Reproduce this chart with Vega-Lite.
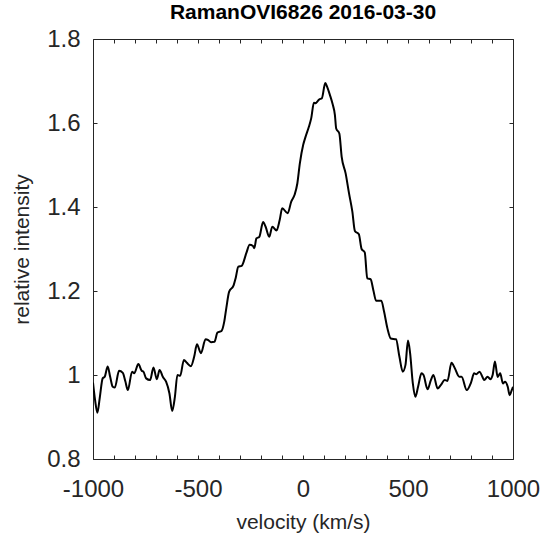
{
  "$schema": "https://vega.github.io/schema/vega-lite/v6.json",
  "width": 420,
  "height": 420,
  "autosize": {"type": "none"},
  "padding": {"left": 93, "top": 39, "right": 36, "bottom": 81},
  "background": "white",
  "config": {
    "view": {"stroke": "#262626", "strokeWidth": 1},
    "font": "Liberation Sans"
  },
  "title": {
    "text": "RamanOVI6826 2016-03-30",
    "fontSize": 21,
    "fontWeight": "bold",
    "color": "#000000",
    "font": "Liberation Sans",
    "anchor": "middle",
    "frame": "group",
    "offset": 4
  },
  "data": {
    "values": [
      {"v": -1000, "i": 0.982}, {"v": -990, "i": 0.94}, {"v": -979, "i": 0.910}, {"v": -968, "i": 0.945},
      {"v": -954, "i": 0.992}, {"v": -944, "i": 0.996}, {"v": -930, "i": 1.020}, {"v": -918, "i": 0.995},
      {"v": -906, "i": 0.972}, {"v": -896, "i": 0.970}, {"v": -876, "i": 1.010}, {"v": -858, "i": 1.005},
      {"v": -846, "i": 0.985}, {"v": -834, "i": 0.964}, {"v": -814, "i": 1.008}, {"v": -804, "i": 1.004},
      {"v": -784, "i": 1.026}, {"v": -768, "i": 1.010}, {"v": -760, "i": 1.008}, {"v": -747, "i": 0.992},
      {"v": -728, "i": 0.988}, {"v": -712, "i": 1.018}, {"v": -696, "i": 0.990}, {"v": -683, "i": 1.012},
      {"v": -667, "i": 0.995}, {"v": -652, "i": 0.984}, {"v": -636, "i": 0.956}, {"v": -623, "i": 0.914},
      {"v": -610, "i": 0.948}, {"v": -598, "i": 1.000}, {"v": -585, "i": 0.998}, {"v": -567, "i": 1.036},
      {"v": -553, "i": 1.029}, {"v": -534, "i": 1.021}, {"v": -518, "i": 1.044}, {"v": -505, "i": 1.073},
      {"v": -486, "i": 1.052}, {"v": -464, "i": 1.085}, {"v": -451, "i": 1.083}, {"v": -438, "i": 1.078},
      {"v": -422, "i": 1.079}, {"v": -407, "i": 1.101}, {"v": -388, "i": 1.105}, {"v": -375, "i": 1.127},
      {"v": -365, "i": 1.16}, {"v": -352, "i": 1.198}, {"v": -330, "i": 1.214}, {"v": -321, "i": 1.230},
      {"v": -308, "i": 1.258}, {"v": -292, "i": 1.260}, {"v": -270, "i": 1.290}, {"v": -254, "i": 1.310},
      {"v": -238, "i": 1.307}, {"v": -232, "i": 1.302}, {"v": -222, "i": 1.325}, {"v": -208, "i": 1.329},
      {"v": -190, "i": 1.364}, {"v": -178, "i": 1.353}, {"v": -161, "i": 1.329}, {"v": -146, "i": 1.353},
      {"v": -126, "i": 1.344}, {"v": -111, "i": 1.369}, {"v": -99, "i": 1.397}, {"v": -73, "i": 1.385},
      {"v": -56, "i": 1.413}, {"v": -40, "i": 1.429}, {"v": -27, "i": 1.456}, {"v": -15, "i": 1.504},
      {"v": 1, "i": 1.548}, {"v": 12, "i": 1.567}, {"v": 28, "i": 1.591}, {"v": 39, "i": 1.611},
      {"v": 52, "i": 1.648}, {"v": 61, "i": 1.647}, {"v": 68, "i": 1.651}, {"v": 77, "i": 1.656},
      {"v": 90, "i": 1.659}, {"v": 106, "i": 1.695}, {"v": 115, "i": 1.686}, {"v": 128, "i": 1.667},
      {"v": 141, "i": 1.645}, {"v": 152, "i": 1.619}, {"v": 158, "i": 1.587}, {"v": 173, "i": 1.575},
      {"v": 184, "i": 1.520}, {"v": 203, "i": 1.480}, {"v": 219, "i": 1.433}, {"v": 235, "i": 1.389},
      {"v": 247, "i": 1.343}, {"v": 266, "i": 1.335}, {"v": 279, "i": 1.300}, {"v": 294, "i": 1.292},
      {"v": 306, "i": 1.230}, {"v": 322, "i": 1.228}, {"v": 335, "i": 1.202}, {"v": 348, "i": 1.177},
      {"v": 373, "i": 1.177}, {"v": 386, "i": 1.151}, {"v": 402, "i": 1.111}, {"v": 418, "i": 1.087},
      {"v": 443, "i": 1.085}, {"v": 459, "i": 1.044}, {"v": 475, "i": 1.008}, {"v": 488, "i": 1.024},
      {"v": 500, "i": 1.082}, {"v": 510, "i": 1.052}, {"v": 523, "i": 0.980}, {"v": 535, "i": 0.948},
      {"v": 548, "i": 0.972}, {"v": 564, "i": 1.004}, {"v": 574, "i": 1.000}, {"v": 593, "i": 0.966},
      {"v": 609, "i": 0.988}, {"v": 621, "i": 1.000}, {"v": 641, "i": 0.968}, {"v": 656, "i": 0.976},
      {"v": 675, "i": 0.988}, {"v": 688, "i": 0.986}, {"v": 707, "i": 1.029}, {"v": 723, "i": 1.016},
      {"v": 744, "i": 0.996}, {"v": 755, "i": 0.996}, {"v": 780, "i": 0.964}, {"v": 800, "i": 0.982},
      {"v": 815, "i": 1.004}, {"v": 825, "i": 1.002}, {"v": 841, "i": 1.008}, {"v": 854, "i": 0.996},
      {"v": 863, "i": 0.988}, {"v": 879, "i": 0.996}, {"v": 892, "i": 0.990}, {"v": 903, "i": 1.000},
      {"v": 914, "i": 1.032}, {"v": 927, "i": 0.995}, {"v": 939, "i": 1.004}, {"v": 952, "i": 0.980},
      {"v": 962, "i": 0.984}, {"v": 975, "i": 0.972}, {"v": 984, "i": 0.952}, {"v": 994, "i": 0.964},
      {"v": 1000, "i": 0.972}
    ]
  },
  "layer": [
    {
      "mark": {"type": "line", "color": "#000000", "strokeWidth": 2, "clip": true, "interpolate": "monotone"},
      "encoding": {
        "x": {
          "field": "v", "type": "quantitative",
          "scale": {"domain": [-1000, 1000], "nice": false, "zero": false},
          "axis": {
            "orient": "bottom", "offset": -4,
            "values": [-1000, -900, -800, -700, -600, -500, -400, -300, -200, -100, 0, 100, 200, 300, 400, 500, 600, 700, 800, 900, 1000],
            "labelExpr": "datum.value % 500 === 0 ? '' + datum.value : ''",
            "domain": false, "grid": false,
            "ticks": true, "tickSize": 4, "tickColor": "#262626", "tickWidth": 1,
            "labelFont": "Liberation Sans", "labelFontSize": 24, "labelColor": "#262626",
            "labelPadding": 18, "labelFlush": false, "labelOverlap": false,
            "title": "velocity (km/s)", "titleFont": "Liberation Sans", "titleFontSize": 21,
            "titleFontWeight": "normal", "titleColor": "#262626", "titlePadding": 10
          }
        },
        "y": {
          "field": "i", "type": "quantitative",
          "scale": {"domain": [0.8, 1.8], "nice": false, "zero": false},
          "axis": {
            "orient": "left", "offset": -4,
            "values": [0.8, 1, 1.2, 1.4, 1.6, 1.8],
            "labelExpr": "'' + datum.value",
            "domain": false, "grid": false,
            "ticks": true, "tickSize": 4, "tickColor": "#262626", "tickWidth": 1,
            "labelFont": "Liberation Sans", "labelFontSize": 24, "labelColor": "#262626",
            "labelPadding": 13, "labelFlush": false, "labelOverlap": false,
            "title": "relative intensity", "titleFont": "Liberation Sans", "titleFontSize": 21,
            "titleFontWeight": "normal", "titleColor": "#262626", "titlePadding": 14
          }
        }
      }
    },
    {
      "mark": {"type": "line", "color": "#000000", "strokeWidth": 2, "opacity": 0},
      "encoding": {
        "x": {
          "field": "v", "type": "quantitative",
          "scale": {"domain": [-1000, 1000], "nice": false, "zero": false},
          "axis": {
            "orient": "top", "offset": -4,
            "values": [-1000, -900, -800, -700, -600, -500, -400, -300, -200, -100, 0, 100, 200, 300, 400, 500, 600, 700, 800, 900, 1000],
            "labels": false, "domain": false, "grid": false, "title": null,
            "ticks": true, "tickSize": 4, "tickColor": "#262626", "tickWidth": 1
          }
        },
        "y": {
          "field": "i", "type": "quantitative",
          "scale": {"domain": [0.8, 1.8], "nice": false, "zero": false},
          "axis": {
            "orient": "right", "offset": -4,
            "values": [0.8, 1, 1.2, 1.4, 1.6, 1.8],
            "labels": false, "domain": false, "grid": false, "title": null,
            "ticks": true, "tickSize": 4, "tickColor": "#262626", "tickWidth": 1
          }
        }
      }
    }
  ],
  "resolve": {
    "scale": {"x": "independent", "y": "independent"},
    "axis": {"x": "independent", "y": "independent"}
  }
}
